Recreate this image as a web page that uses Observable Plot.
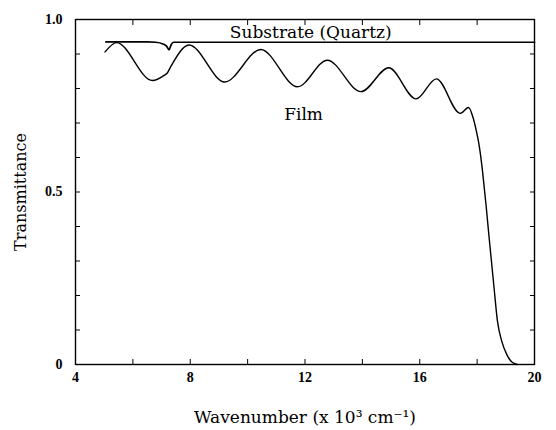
<!DOCTYPE html>
<html><head><meta charset="utf-8">
<script src="https://cdn.jsdelivr.net/npm/d3@7"></script>
<script src="https://cdn.jsdelivr.net/npm/@observablehq/plot@0.6"></script>
<style>body{margin:0;background:#fff}</style>
</head><body><div id="chart"></div>
<script>
// Film transmittance
const filmX = [5.03,5.43,6.68,7.09,7.2,7.33,7.96,9.2,10.46,11.74,12.78,13.95,14.92,15.87,16.58,17.41,17.7,17.86,17.97,18.05,18.12,18.19,18.31,18.42,18.58,18.71,18.86,19.04,19.21,19.4];
const filmT = [0.906,0.933,0.823,0.838,0.845,0.865,0.926,0.819,0.913,0.805,0.882,0.791,0.860,0.770,0.828,0.728,0.745,0.715,0.678,0.645,0.607,0.559,0.463,0.366,0.231,0.125,0.067,0.028,0.007,0.0];
// Substrate (quartz) transmittance
const substrateX = [5.06,6.5,6.8,7.05,7.18,7.26,7.33,7.42,12,20];
const substrateT = [0.935,0.935,0.934,0.929,0.922,0.912,0.926,0.934,0.934,0.934];
// ticks
const xTicks = [4,6,8,10,12,14,16,18,20];
const xTickLabels = [4,8,12,16,20];
const yTicks = [0,0.1,0.2,0.3,0.4,0.5,0.6,0.7,0.8,0.9,1.0];
const yTickLabels = [[0,"0"],[0.5,"0.5"],[1,"1.0"]];
const annotations = [
  {text: "Substrate (Quartz)", x: 12.2, y: 0.947},
  {text: "Film", x: 11.95, y: 0.708}
];

const film = filmX.map((x,i) => ({x, t: filmT[i]}));
const substrate = substrateX.map((x,i) => ({x, t: substrateT[i]}));
const yLab = new Map(yTickLabels);
const serif = "DejaVu Serif";

const chart = Plot.plot({
  width: 556, height: 430,
  marginLeft: 75, marginRight: 22, marginTop: 19, marginBottom: 66,
  x: {domain: [4,20]},
  y: {domain: [0,1]},
  style: {fontFamily: "Liberation Serif", fontSize: "14px", background: "white", color: "black"},
  marks: [
    Plot.frame({stroke: "black", strokeWidth: 1.4}),
    Plot.axisX({anchor: "bottom", ticks: xTicks, tickSize: -5, tickPadding: 13, label: null,
      tickFormat: d => xTickLabels.includes(d) ? String(d) : "", fontWeight: "bold", fontSize: 14}),
    Plot.axisX({anchor: "top", ticks: xTicks, tickSize: -5, label: null, tickFormat: () => ""}),
    Plot.axisY({anchor: "left", ticks: yTicks, tickSize: -5, tickPadding: 18, label: null,
      tickFormat: d => yLab.has(d) ? yLab.get(d) : "", fontWeight: "bold", fontSize: 14}),
    Plot.axisY({anchor: "right", ticks: yTicks, tickSize: -5, label: null, tickFormat: () => ""}),
    Plot.line(substrate, {x: "x", y: "t", curve: "monotone-x", stroke: "black", strokeWidth: 1.7}),
    Plot.line(film, {x: "x", y: "t", curve: "monotone-x", stroke: "black", strokeWidth: 1.4}),
    Plot.text(annotations, {x: "x", y: "y", text: "text", lineAnchor: "bottom", fontFamily: serif, fontSize: 17, fill: "black"}),
    Plot.text(["Transmittance"], {frameAnchor: "left", textAnchor: "middle", rotate: -90, dx: -55, fontFamily: serif, fontSize: 16, fill: "black"}),
    Plot.text(["Wavenumber (x 10\u00B3 cm\u207B\u00B9)"], {frameAnchor: "bottom", dy: 58, lineAnchor: "bottom", fontFamily: serif, fontSize: 17, fill: "black"})
  ]
});
document.getElementById("chart").appendChild(chart);
</script>
</body></html>
